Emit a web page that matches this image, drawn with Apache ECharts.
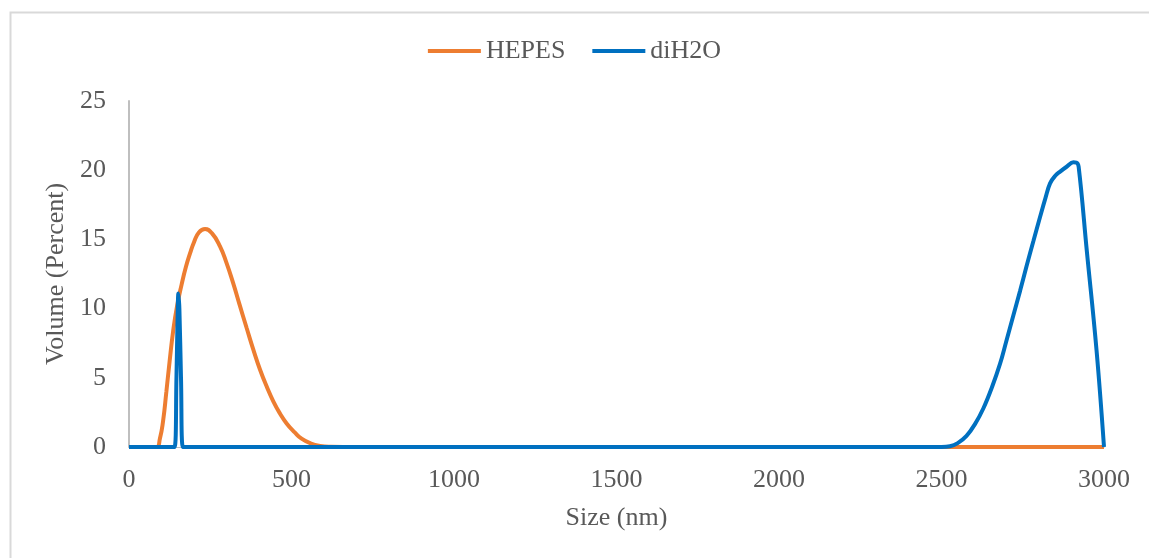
<!DOCTYPE html>
<html>
<head>
<meta charset="utf-8">
<script src="https://cdn.jsdelivr.net/npm/echarts@6/dist/echarts.min.js"></script>
<style>
  html, body { margin: 0; padding: 0; background: #fff; }
  #chart { width: 1149px; height: 558px; }
</style>
</head>
<body>
<div id="chart"></div>
<script>
// Size distribution (volume %) for particles in HEPES buffer and in deionised water
const hepesSize = [0, 84, 95, 105, 115, 125, 136, 148, 162, 175, 188, 200, 215, 234, 255, 280, 300, 321, 340, 362, 383, 403, 424, 444, 465, 485, 510, 531, 560, 588, 620, 700, 1000, 2000, 3000];
const hepesVolume = [0, 0, 0.6, 1.9, 4.0, 6.2, 8.4, 10.2, 11.75, 13.0, 14.0, 14.8, 15.5, 15.75, 15.45, 14.5, 13.3, 11.8, 10.3, 8.6, 7.0, 5.6, 4.35, 3.3, 2.4, 1.7, 1.05, 0.6, 0.25, 0.08, 0.02, 0, 0, 0, 0];

const waterSize = [0, 140, 146, 150, 152, 155, 160, 166, 180, 500, 1000, 2000, 2500, 2526, 2550, 2577, 2603, 2629, 2655, 2680, 2700, 2721, 2742, 2762, 2783, 2803, 2820, 2834, 2850, 2865, 2885, 2906, 2915, 2922, 2947, 2977, 3000];
const waterVolume = [0, 0, 5, 10, 11.1, 10, 5, 0, 0, 0, 0, 0, 0, 0.05, 0.28, 0.8, 1.65, 2.8, 4.3, 6.0, 7.7, 9.5, 11.3, 13.1, 14.9, 16.6, 18.0, 19.05, 19.6, 19.9, 20.25, 20.57, 20.55, 20.25, 14.2, 7.0, 0];

const xTicks = { min: 0, max: 3000, interval: 500 };
const yTicks = { min: 0, max: 25, interval: 5 };

const seriesNames = ['HEPES', 'diH2O'];
const seriesColors = ['#ED7D31', '#0070C0'];

const zip = (xs, ys) => xs.map((x, i) => [x, ys[i]]);
const textColor = '#595959';
const fontFamily = '"Liberation Serif", "Times New Roman", serif';
const fontSize = 26;

const chart = echarts.init(document.getElementById('chart'), null, { renderer: 'canvas' });
chart.setOption({
  animation: false,
  backgroundColor: '#ffffff',
  textStyle: { fontFamily: fontFamily, color: textColor },
  graphic: [{
    type: 'rect',
    left: 8, top: 10,
    shape: { width: 1200, height: 600 },
    style: { fill: 'none', stroke: '#d9d9d9', lineWidth: 2 },
    silent: true
  }],
  legend: {
    top: 33,
    left: 'center',
    icon: 'rect',
    itemWidth: 53,
    itemHeight: 4,
    itemGap: 27,
    textStyle: { fontFamily: fontFamily, fontSize: fontSize, color: textColor },
    data: seriesNames
  },
  grid: { left: 129, right: 45, top: 101, bottom: 111 },
  xAxis: {
    type: 'value',
    min: xTicks.min, max: xTicks.max, interval: xTicks.interval,
    name: 'Size (nm)',
    nameLocation: 'middle',
    nameGap: 58,
    nameTextStyle: { fontFamily: fontFamily, fontSize: fontSize, color: textColor },
    axisLine: { show: true, lineStyle: { color: '#bfbfbf', width: 1 } },
    axisTick: { show: false },
    splitLine: { show: false },
    axisLabel: { fontFamily: fontFamily, fontSize: fontSize, color: textColor, margin: 20, formatter: v => String(v) }
  },
  yAxis: {
    type: 'value',
    min: yTicks.min, max: yTicks.max, interval: yTicks.interval,
    name: 'Volume (Percent)',
    nameLocation: 'middle',
    nameGap: 56,
    nameTextStyle: { fontFamily: fontFamily, fontSize: fontSize, color: textColor },
    axisLine: { show: true, lineStyle: { color: '#bfbfbf', width: 2 } },
    axisTick: { show: false },
    splitLine: { show: false },
    axisLabel: { fontFamily: fontFamily, fontSize: fontSize, color: textColor, margin: 23 }
  },
  series: [
    {
      name: seriesNames[0],
      type: 'line',
      data: zip(hepesSize, hepesVolume),
      smooth: 0.5,
      symbol: 'none',
      color: seriesColors[0],
      lineStyle: { width: 4, color: seriesColors[0] },
      z: 2
    },
    {
      name: seriesNames[1],
      type: 'line',
      data: zip(waterSize, waterVolume),
      smooth: 0.4,
      symbol: 'none',
      color: seriesColors[1],
      lineStyle: { width: 4, color: seriesColors[1] },
      z: 3
    }
  ]
});
</script>
</body>
</html>
